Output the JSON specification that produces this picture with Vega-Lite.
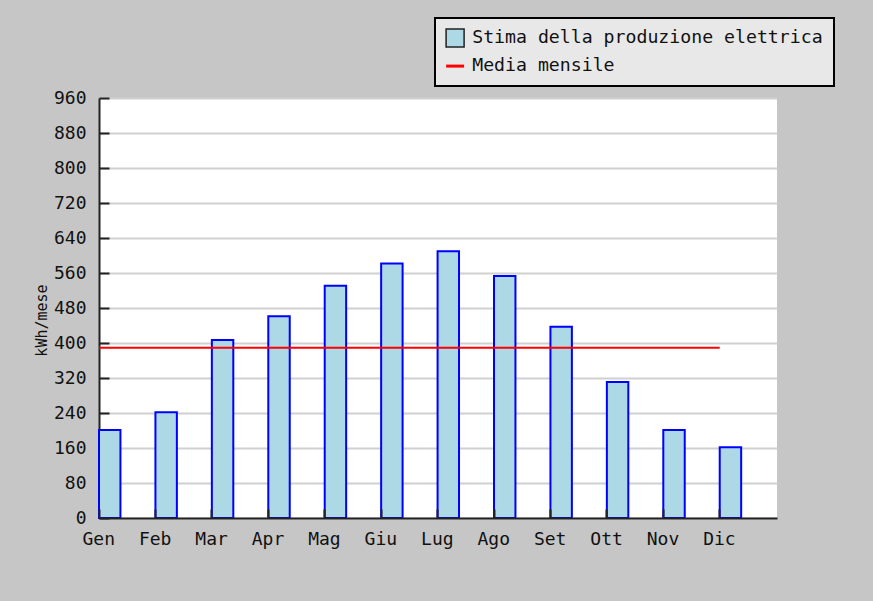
{
  "$schema": "https://vega.github.io/schema/vega-lite/v6.json",
  "width": 678,
  "height": 420,
  "autosize": {"type": "none"},
  "padding": {"left": 99, "top": 98, "right": 96, "bottom": 83},
  "background": "#c6c6c6",
  "view": {"fill": "#ffffff", "stroke": null},
  "config": {
    "font": "DejaVu Sans Mono",
    "axis": {
      "labelFont": "DejaVu Sans Mono",
      "labelFontSize": 18,
      "labelColor": "#111111",
      "domainColor": "#222222",
      "domainWidth": 2,
      "tickColor": "#222222",
      "tickWidth": 2,
      "gridColor": "#d0d0d0",
      "gridWidth": 2,
      "titleFont": "DejaVu Sans Mono",
      "titleFontWeight": "normal",
      "titleColor": "#111111"
    },
    "legend": {
      "title": null,
      "orient": "none",
      "legendX": 336,
      "legendY": -80,
      "fillColor": "#e8e8e8",
      "strokeColor": "#000000",
      "padding": 11,
      "labelFont": "DejaVu Sans Mono",
      "labelFontSize": 18.2,
      "labelColor": "#111111",
      "labelLimit": 0,
      "labelOffset": 8,
      "symbolSize": 324,
      "rowPadding": 5
    }
  },
  "layer": [
    {
      "data": {
        "values": [
          {"mese": "Gen", "kwh": 201, "serie": "Stima della produzione elettrica"},
          {"mese": "Feb", "kwh": 242, "serie": "Stima della produzione elettrica"},
          {"mese": "Mar", "kwh": 407, "serie": "Stima della produzione elettrica"},
          {"mese": "Apr", "kwh": 461, "serie": "Stima della produzione elettrica"},
          {"mese": "Mag", "kwh": 531, "serie": "Stima della produzione elettrica"},
          {"mese": "Giu", "kwh": 582, "serie": "Stima della produzione elettrica"},
          {"mese": "Lug", "kwh": 610, "serie": "Stima della produzione elettrica"},
          {"mese": "Ago", "kwh": 553, "serie": "Stima della produzione elettrica"},
          {"mese": "Set", "kwh": 437, "serie": "Stima della produzione elettrica"},
          {"mese": "Ott", "kwh": 311, "serie": "Stima della produzione elettrica"},
          {"mese": "Nov", "kwh": 201, "serie": "Stima della produzione elettrica"},
          {"mese": "Dic", "kwh": 162, "serie": "Stima della produzione elettrica"}
        ]
      },
      "mark": {"type": "bar", "stroke": "#0000ff", "strokeWidth": 2},
      "encoding": {
        "x": {
          "field": "mese",
          "type": "nominal",
          "sort": null,
          "scale": {
            "domain": ["Gen", "Feb", "Mar", "Apr", "Mag", "Giu", "Lug", "Ago", "Set", "Ott", "Nov", "Dic"],
            "paddingInner": 0.62,
            "paddingOuter": 0.3175,
            "align": 0
          },
          "axis": {
            "title": null,
            "bandPosition": 0,
            "labelAngle": 0,
            "labelOffset": -11,
            "tickSize": -9,
            "labelPadding": 21,
            "grid": false,
            "zindex": 1
          }
        },
        "y": {
          "field": "kwh",
          "type": "quantitative",
          "scale": {"domain": [0, 960], "nice": false},
          "axis": {
            "title": "kWh/mese",
            "titleFontSize": 15,
            "titleX": -50,
            "titleY": 222,
            "values": [0, 80, 160, 240, 320, 400, 480, 560, 640, 720, 800, 880, 960],
            "labelOverlap": false,
            "tickSize": -10,
            "labelPadding": 23,
            "grid": true
          }
        },
        "color": {
          "field": "serie",
          "type": "nominal",
          "scale": {
            "domain": ["Stima della produzione elettrica", "Media mensile"],
            "range": ["#add8e6", "#ff0000"]
          },
          "legend": {
            "encoding": {
              "legend": {"strokeWidth": {"value": 2}},
              "symbols": {
                "shape": {"value": {"expr": "datum.value === 'Media mensile' ? 'stroke' : 'square'"}},
                "stroke": {"value": {"expr": "datum.value === 'Media mensile' ? '#ff0000' : '#222222'"}},
                "strokeWidth": {"value": {"expr": "datum.value === 'Media mensile' ? 3 : 1.5"}},
                "opacity": {"value": 1}
              }
            }
          }
        }
      }
    },
    {
      "data": {
        "values": [
          {"mese": "Gen", "media": 389},
          {"mese": "Dic", "media": 389}
        ]
      },
      "mark": {"type": "line", "strokeWidth": 2, "color": "#ff0000"},
      "encoding": {
        "x": {
          "field": "mese",
          "type": "nominal",
          "sort": null,
          "bandPosition": 0,
          "axis": {
            "title": null,
            "bandPosition": 0,
            "labelAngle": 0,
            "labelOffset": -11,
            "tickSize": -9,
            "labelPadding": 21,
            "grid": false,
            "zindex": 1
          }
        },
        "y": {
          "field": "media",
          "type": "quantitative",
          "axis": {
            "title": "kWh/mese",
            "titleFontSize": 15,
            "titleX": -50,
            "titleY": 222,
            "values": [0, 80, 160, 240, 320, 400, 480, 560, 640, 720, 800, 880, 960],
            "labelOverlap": false,
            "tickSize": -10,
            "labelPadding": 23,
            "grid": true
          }
        }
      }
    }
  ]
}
